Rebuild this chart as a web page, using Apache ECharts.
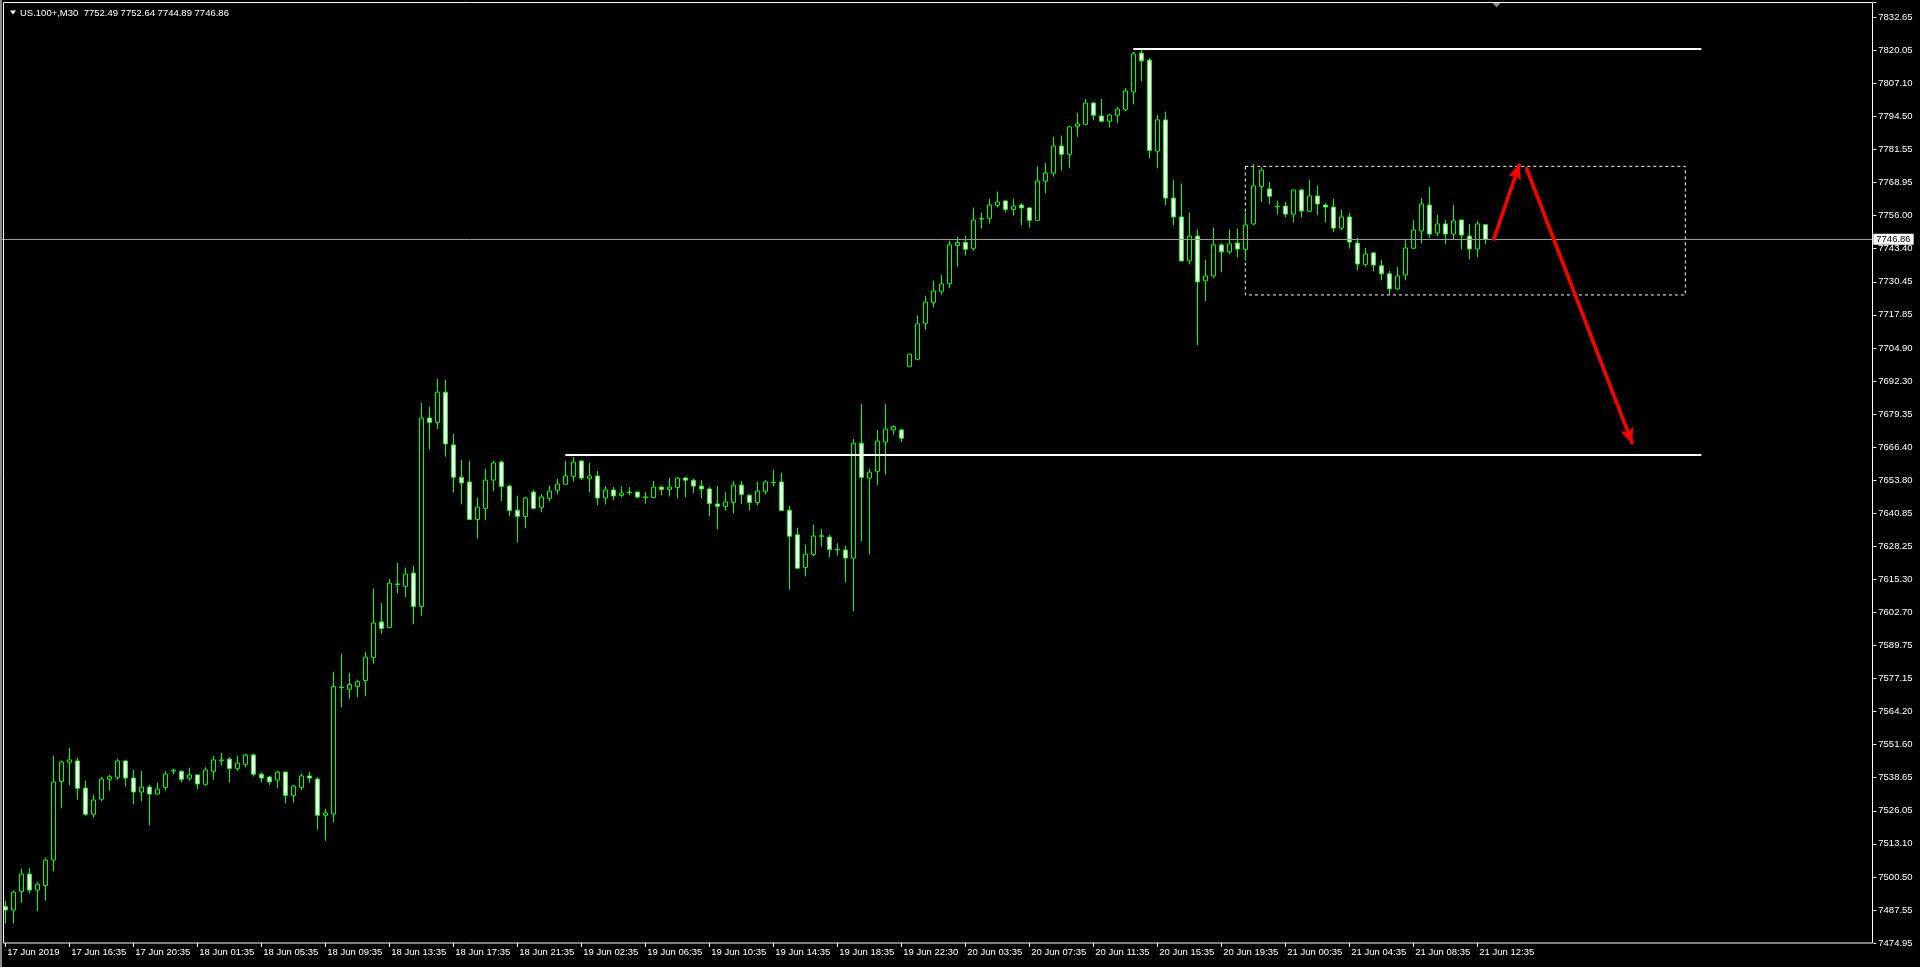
<!DOCTYPE html>
<html>
<head>
<meta charset="utf-8">
<script src="https://cdn.jsdelivr.net/npm/echarts@6/dist/echarts.min.js"></script>
<style>
html,body{margin:0;padding:0;background:#000;}
#chart{width:1920px;height:967px;}
</style>
</head>
<body>
<div id="chart"></div>
<script>
// ---------- data ----------
const symbolName = 'US.100+';
const timeframe = 'M30';

const xTickLabels = ['17 Jun 2019','17 Jun 16:35','17 Jun 20:35','18 Jun 01:35','18 Jun 05:35','18 Jun 09:35','18 Jun 13:35','18 Jun 17:35','18 Jun 21:35','19 Jun 02:35','19 Jun 06:35','19 Jun 10:35','19 Jun 14:35','19 Jun 18:35','19 Jun 22:30','20 Jun 03:35','20 Jun 07:35','20 Jun 11:35','20 Jun 15:35','20 Jun 19:35','21 Jun 00:35','21 Jun 04:35','21 Jun 08:35','21 Jun 12:35'];

// bottom to top
const yTickLabels = ['7474.95','7487.55','7500.50','7513.10','7526.05','7538.65','7551.60','7564.20','7577.15','7589.75','7602.70','7615.30','7628.25','7640.85','7653.80','7666.40','7679.35','7692.30','7704.90','7717.85','7730.45','7743.40','7756.00','7768.95','7781.55','7794.50','7807.10','7820.05','7832.65'];

const opens = [
7489.0,7487.7,7494.9,7501.6,7495.4,7497.2,7507.0,7537.4,7544.8,7545.3,
7534.8,7524.7,7530.5,7538.2,7539.0,7545.3,7538.7,7533.3,7535.2,7532.5,
7535.1,7541.4,7541.3,7538.6,7539.9,7536.3,7541.3,7545.4,7546.0,7542.4,
7544.0,7547.6,7540.2,7539.1,7537.9,7541.0,7532.0,7535.1,7539.5,7538.3,
7524.3,7524.8,7573.8,7573.0,7574.1,7576.4,7585.3,7599.0,7596.9,7613.5,
7612.8,7617.9,7605.0,7677.8,7676.1,7687.8,7667.4,7654.9,7653.1,7638.6,
7642.9,7653.8,7660.8,7651.5,7642.2,7639.8,7649.2,7643.3,7646.8,7649.9,
7652.2,7655.3,7661.2,7654.5,7655.4,7646.9,7650.0,7647.9,7649.0,7649.2,
7647.1,7647.1,7651.1,7650.2,7651.0,7654.6,7653.8,7651.5,7650.4,7644.6,
7643.7,7645.2,7651.9,7648.0,7645.2,7649.5,7652.8,7653.1,7642.2,7632.7,
7620.1,7625.1,7632.1,7631.8,7627.0,7626.8,7623.7,7668.1,7654.6,7657.2,
7668.5,7673.2,7673.2,7697.8,7700.5,7714.4,7722.5,7726.8,7729.7,7744.5,
7745.6,7743.4,7754.7,7755.0,7760.0,7761.7,7758.4,7760.1,7759.0,7754.2,
7769.3,7772.4,7782.9,7779.7,7790.5,7791.3,7799.5,7794.5,7792.5,7794.8,
7797.1,7803.8,7818.8,7816.1,7780.9,7793.0,7762.8,7755.5,7738.5,7748.1,
7730.8,7732.7,7744.7,7742.0,7745.4,7743.0,7752.8,7767.3,7766.3,7759.6,
7759.7,7756.6,7765.9,7757.7,7763.6,7760.1,7759.3,7751.2,7755.5,7745.4,
7737.2,7741.6,7736.6,7733.5,7727.7,7733.1,7743.4,7750.1,7760.1,7749.3,
7752.8,7748.9,7754.3,7748.1,7743.1,7752.49];

const highs = [
7491.3,7495.2,7503.7,7504.0,7498.5,7507.9,7547.3,7545.4,7550.4,7546.6,
7537.7,7532.3,7539.2,7540.0,7546.2,7545.6,7541.8,7541.4,7536.0,7536.9,
7541.4,7542.3,7541.6,7542.7,7540.1,7542.8,7547.3,7548.5,7546.7,7547.3,
7548.1,7548.2,7540.8,7539.6,7541.5,7541.2,7536.1,7540.4,7541.1,7539.0,
7526.8,7579.8,7586.7,7579.4,7576.7,7587.5,7611.9,7606.4,7615.6,7621.9,
7620.0,7620.7,7683.7,7682.2,7693.0,7692.6,7671.7,7661.7,7661.3,7647.0,
7658.2,7661.3,7661.3,7652.0,7647.8,7647.4,7650.0,7648.4,7651.7,7654.4,
7661.3,7662.7,7661.4,7660.5,7657.3,7651.5,7651.1,7651.4,7651.1,7649.4,
7649.3,7653.5,7651.6,7654.7,7654.9,7655.1,7654.4,7653.8,7651.1,7651.5,
7649.2,7653.5,7653.5,7648.3,7653.2,7653.8,7657.8,7656.7,7643.8,7635.4,
7628.9,7636.6,7635.0,7632.7,7629.4,7628.5,7669.7,7683.3,7658.1,7673.2,
7683.3,7674.9,7673.7,7702.6,7717.4,7725.1,7730.9,7733.2,7746.3,7747.9,
7748.3,7759.1,7757.2,7762.6,7765.3,7762.0,7762.6,7760.9,7759.2,7775.0,
7776.5,7786.5,7786.9,7790.5,7795.8,7801.1,7799.9,7801.1,7795.3,7798.0,
7805.3,7819.2,7820.4,7816.9,7794.9,7796.2,7769.8,7768.4,7757.2,7750.6,
7739.0,7751.4,7745.3,7750.6,7751.0,7757.2,7776.0,7774.7,7769.0,7761.8,
7761.3,7766.0,7766.4,7769.9,7767.6,7760.9,7762.6,7758.2,7757.0,7747.4,
7743.5,7742.0,7738.9,7734.6,7736.2,7747.0,7754.3,7762.8,7767.1,7756.3,
7754.3,7760.1,7754.5,7752.8,7753.9,7752.64];

const lows = [
7482.5,7482.5,7490.5,7494.1,7487.2,7491.3,7502.6,7527.0,7535.9,7530.3,
7524.1,7523.4,7529.7,7533.8,7538.0,7535.5,7528.5,7529.7,7520.4,7532.3,
7533.9,7540.1,7537.0,7537.7,7534.3,7535.7,7538.0,7543.5,7537.0,7541.3,
7542.8,7539.3,7537.0,7536.0,7534.7,7528.9,7529.2,7533.9,7536.9,7518.7,
7514.5,7521.6,7566.0,7569.5,7569.9,7570.3,7582.9,7594.5,7596.7,7610.0,
7608.5,7598.1,7601.4,7665.6,7673.5,7662.9,7649.0,7644.5,7638.3,7631.3,
7638.3,7649.5,7645.7,7639.8,7629.8,7635.2,7642.5,7641.4,7645.6,7648.3,
7652.0,7653.3,7653.8,7649.1,7644.0,7644.4,7646.0,7647.1,7648.0,7646.8,
7644.7,7647.0,7648.0,7647.5,7646.8,7647.1,7648.7,7646.8,7639.8,7634.8,
7642.1,7640.9,7644.5,7642.1,7644.0,7648.3,7651.4,7642.0,7611.5,7619.7,
7616.6,7624.5,7628.1,7623.9,7624.6,7614.3,7603.1,7630.1,7625.1,7651.8,
7656.0,7671.4,7668.5,7697.4,7700.4,7711.9,7720.5,7725.5,7727.9,7736.3,
7740.6,7742.5,7751.0,7752.9,7759.2,7757.2,7756.0,7752.3,7751.4,7754.1,
7764.6,7771.1,7773.5,7774.3,7786.5,7790.9,7792.8,7792.1,7790.1,7791.7,
7796.3,7799.0,7807.9,7778.2,7774.3,7760.0,7752.3,7738.4,7737.2,7705.9,
7722.9,7731.9,7734.1,7741.1,7739.9,7738.6,7752.3,7761.2,7760.4,7756.4,
7755.3,7753.4,7755.3,7757.3,7756.1,7753.4,7749.6,7750.5,7743.3,7734.9,
7736.4,7734.5,7731.0,7725.5,7727.3,7731.0,7743.0,7745.3,7747.4,7748.1,
7744.9,7746.6,7743.0,7739.1,7739.9,7744.89];

const closes = [
7487.7,7494.6,7501.6,7495.4,7497.7,7507.0,7537.2,7544.9,7545.7,7534.7,
7524.7,7530.2,7538.3,7539.2,7545.3,7538.7,7533.3,7535.2,7532.5,7534.4,
7540.2,7541.7,7538.2,7539.9,7536.4,7541.8,7545.7,7545.7,7542.4,7544.5,
7547.6,7540.2,7538.7,7537.2,7541.0,7532.0,7535.6,7539.5,7538.7,7524.3,
7525.2,7574.0,7573.6,7574.8,7575.9,7585.4,7598.6,7596.5,7614.0,7613.7,
7617.5,7605.0,7677.8,7676.1,7687.8,7667.8,7654.9,7652.7,7638.6,7643.4,
7653.8,7660.4,7651.4,7642.1,7639.8,7646.9,7642.9,7647.3,7649.6,7652.3,
7655.4,7660.8,7654.6,7655.4,7646.9,7650.0,7647.7,7648.8,7649.2,7647.3,
7647.3,7651.1,7650.2,7651.1,7654.6,7653.8,7651.5,7650.4,7644.8,7643.7,
7645.4,7651.9,7648.3,7645.2,7649.6,7653.1,7653.0,7642.1,7632.1,7619.8,
7625.2,7632.2,7632.3,7627.0,7626.9,7623.7,7668.1,7654.9,7656.9,7668.9,
7673.5,7674.5,7670.0,7702.5,7714.2,7722.6,7726.9,7729.6,7744.7,7745.6,
7743.0,7754.3,7754.8,7760.1,7761.3,7758.4,7759.7,7759.0,7754.2,7769.4,
7772.5,7782.9,7779.7,7790.3,7791.4,7799.5,7794.8,7792.5,7794.9,7797.2,
7804.2,7818.5,7815.8,7781.2,7793.0,7762.8,7755.5,7738.5,7748.1,7730.4,
7732.7,7744.7,7742.0,7745.1,7743.1,7752.4,7767.5,7773.6,7763.5,7759.5,
7756.6,7765.9,7757.8,7763.6,7760.5,7759.3,7751.2,7755.5,7745.8,7737.3,
7741.2,7736.9,7733.5,7727.7,7732.7,7743.5,7750.5,7760.5,7748.9,7752.8,
7748.9,7754.0,7748.5,7743.1,7752.8,7746.86];

// annotations (bar index, price)
const resistanceLine = [[141, 7820.5], [212, 7820.5]];
const supportLine = [[70, 7663.7], [212, 7663.7]];
const rangeBox = [[155, 7775.05], [210, 7725.35]];
const arrowUp = [[186.0, 7746.4], [189.3, 7776.1]];
const arrowDown = [[190.1, 7774.7], [203.4, 7667.8]];

// ---------- layout constants ----------
const SLOTS = 234;             // bars + chart shift space
const PLOT_LEFT = 1.3, SLOT_W = 8;
const PLOT_TOP = 2.5, PLOT_BOTTOM = 943;
const PX_PER_UNIT = 2.588, LABEL_STEP = 12.775;
const yMin = 7474.95;
const yMax = yMin + (PLOT_BOTTOM - PLOT_TOP) / PX_PER_UNIT;
const labelMax = (yMax - yMin) / LABEL_STEP;
const FONT = '"Liberation Sans", Arial, sans-serif';
const FS = 9.5;

const slots = Array.from({length: SLOTS}, (_, i) => String(i));
const candleData = opens.map((o, i) => [o, closes[i], lows[i], highs[i]]);
const last = candleData.length - 1;
const lastClose = closes[last];
const titleText = symbolName + ',' + timeframe + '  ' +
  [opens[last], highs[last], lows[last], closes[last]].map(v => v.toFixed(2)).join(' ');

const isTick = (idx) => idx % 8 === 0 && (idx / 8) < xTickLabels.length;

const chart = echarts.init(document.getElementById('chart'), null, {renderer: 'canvas'});
const plotRight = PLOT_LEFT + SLOT_W * SLOTS;

chart.setOption({
  backgroundColor: '#000000',
  animation: false,
  grid: {
    left: PLOT_LEFT, right: 1920 - plotRight, top: PLOT_TOP, bottom: 967 - PLOT_BOTTOM,
    containLabel: false, outerBoundsMode: 'none', show: false
  },
  xAxis: [
    {
      type: 'category', data: slots, boundaryGap: true,
      axisLine: {show: false},
      axisTick: {show: true, interval: isTick, alignWithLabel: true, length: 4, lineStyle: {color: '#ffffff', width: 1}},
      axisLabel: {
        show: true, interval: isTick, color: '#ffffff', fontSize: FS, fontFamily: FONT,
        align: 'left', margin: 4, padding: [0, 0, 0, 2],
        formatter: (v, idx) => (idx % 8 === 0 && xTickLabels[idx / 8]) ? xTickLabels[idx / 8] : ''
      },
      splitLine: {show: false}
    },
    {type: 'value', min: -0.5, max: SLOTS - 0.5, show: false}
  ],
  yAxis: [
    {type: 'value', min: yMin, max: yMax, show: false, splitLine: {show: false}},
    {
      type: 'value', min: 0, max: labelMax, interval: 1, position: 'right',
      axisLine: {show: false},
      axisTick: {show: true, length: 3, lineStyle: {color: '#ffffff'}},
      axisLabel: {
        color: '#ffffff', fontSize: FS, fontFamily: FONT, margin: 5,
        formatter: (v) => Number.isInteger(v) && yTickLabels[v] ? yTickLabels[v] : ''
      },
      splitLine: {show: false}
    }
  ],
  series: [
    {
      name: 'price line', type: 'line', xAxisIndex: 1, yAxisIndex: 0, data: [], z: 1,
      markLine: {
        silent: true, symbol: ['none', 'none'], animation: false,
        lineStyle: {color: '#9c9c9c', width: 1, type: 'solid'},
        label: {
          show: true, position: 'end', distance: 0,
          formatter: () => lastClose.toFixed(2),
          backgroundColor: '#ffffff', color: '#000000', padding: [1, 3, 0, 3],
          fontSize: FS, fontFamily: FONT
        },
        data: [{yAxis: lastClose}]
      }
    },
    {
      name: 'US100', type: 'candlestick', xAxisIndex: 0, yAxisIndex: 0, z: 2,
      data: candleData, barWidth: 4,
      itemStyle: {
        color: '#000000', color0: '#ffffff',
        borderColor: '#00ff00', borderColor0: '#00ff00', borderColorDoji: '#00ff00',
        borderWidth: 1
      }
    },
    {
      name: 'levels', type: 'line', xAxisIndex: 1, yAxisIndex: 0, data: [], z: 3,
      markLine: {
        silent: true, symbol: ['none', 'none'], animation: false,
        label: {show: false},
        lineStyle: {color: '#ffffff', width: 2, type: 'solid'},
        data: [
          [{coord: resistanceLine[0]}, {coord: resistanceLine[1]}],
          [{coord: supportLine[0]}, {coord: supportLine[1]}]
        ]
      },
      markArea: {
        silent: true, animation: false,
        itemStyle: {color: 'rgba(0,0,0,0)', borderColor: '#ffffff', borderWidth: 1, borderType: [3, 3]},
        label: {show: false},
        data: [[{coord: rangeBox[0]}, {coord: rangeBox[1]}]]
      }
    },
    {
      name: 'arrows', type: 'line', xAxisIndex: 1, yAxisIndex: 0, data: [], z: 4,
      markLine: {
        silent: true, symbol: ['none', 'arrow'], symbolSize: [10, 16], animation: false,
        label: {show: false},
        lineStyle: {color: '#ff0000', width: 3.5, type: 'solid', opacity: 1},
        itemStyle: {color: '#ff0000'},
        data: [
          [{coord: arrowUp[0]}, {coord: arrowUp[1]}],
          [{coord: arrowDown[0]}, {coord: arrowDown[1]}]
        ]
      }
    }
  ],
  graphic: [
    {type: 'rect', silent: true, z: 10, shape: {x: 0, y: 0, width: 2, height: 967}, style: {fill: '#8a8a8a'}},
    {type: 'rect', silent: true, z: 10, shape: {x: 3.5, y: 2.5, width: 1869, height: 940.5}, style: {fill: 'none', stroke: '#ffffff', lineWidth: 1}},
    {type: 'polygon', silent: true, z: 10, shape: {points: [[10, 10.5], [16, 10.5], [13, 14.5]]}, style: {fill: '#ffffff'}},
    {type: 'text', silent: true, z: 10, x: 20, y: 13,
      style: {text: titleText, fill: '#ffffff', font: FS + 'px ' + FONT, verticalAlign: 'middle', textVerticalAlign: 'middle'}},
    {type: 'polygon', silent: true, z: 10, shape: {points: [[1492.5, 3], [1500.5, 3], [1496.5, 7.5]]}, style: {fill: '#8c8c8c'}}
  ]
});
</script>
</body>
</html>
